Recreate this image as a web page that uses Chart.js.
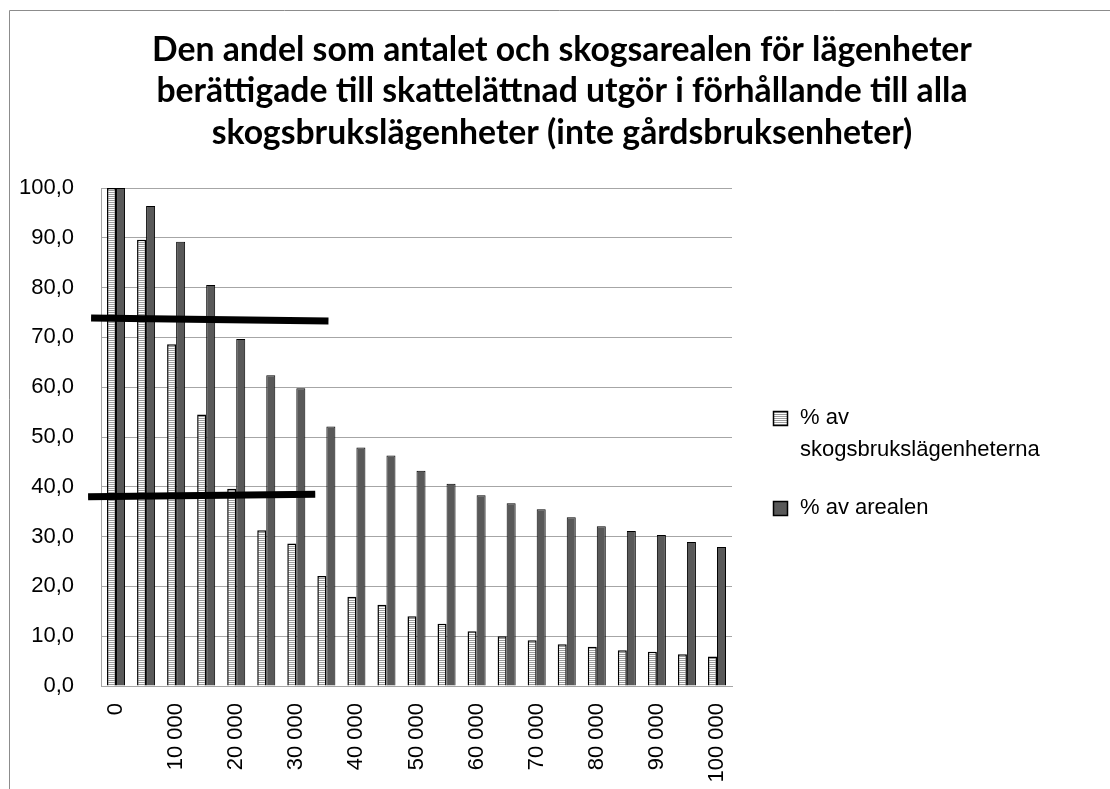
<!DOCTYPE html>
<html>
<head>
<meta charset="utf-8">
<script src="https://cdn.jsdelivr.net/npm/chart.js@4.4.1/dist/chart.umd.min.js"></script>
<style>
  html, body { margin: 0; padding: 0; background: #ffffff; }
  #wrap { position: relative; width: 1110px; height: 789px; }
</style>
</head>
<body>
<div id="wrap"><canvas id="c"></canvas></div>
<script>
// ---- data ----
const titleLines = [
  "Den andel som antalet och skogsarealen för lägenheter",
  "berättigade till skattelättnad utgör i förhållande till alla",
  "skogsbrukslägenheter (inte gårdsbruksenheter)"
];
const categories = [0, 5000, 10000, 15000, 20000, 25000, 30000, 35000, 40000, 45000, 50000,
                    55000, 60000, 65000, 70000, 75000, 80000, 85000, 90000, 95000, 100000];
const tickLabels = ["0", "", "10 000", "", "20 000", "", "30 000", "", "40 000", "", "50 000",
                    "", "60 000", "", "70 000", "", "80 000", "", "90 000", "", "100 000"];
const seriesNames = ["% av skogsbrukslägenheterna", "% av arealen"];
const shareHoldings = [100.0, 89.6, 68.6, 54.5, 39.6, 31.3, 28.6, 22.1, 17.9, 16.3, 14.0,
                       12.5, 11.0, 10.0, 9.2, 8.4, 7.9, 7.2, 6.9, 6.4, 5.9];
const shareArea = [100.0, 96.4, 89.2, 80.5, 69.7, 62.4, 59.8, 52.1, 47.9, 46.3, 43.2,
                   40.6, 38.3, 36.7, 35.5, 33.9, 32.1, 31.1, 30.3, 28.9, 27.9];
// hand-drawn marker lines, in data space (category index, value)
const markerLines = [
  { x1: -0.83, y1: 73.9, x2: 7.07, y2: 73.3 },
  { x1: -0.93, y1: 38.0, x2: 6.63, y2: 38.5 }
];

// ---- styles ----
const FONT = "'Liberation Sans', Arial, sans-serif";
const TITLE_FONT = "Lato, 'Open Sans', sans-serif";
function stripePattern() {
  const p = document.createElement('canvas');
  p.width = 4; p.height = 2;
  const g = p.getContext('2d');
  g.fillStyle = '#ffffff'; g.fillRect(0, 0, 4, 2);
  g.fillStyle = '#9a9a9a'; g.fillRect(0, 0, 4, 1);
  return g.createPattern(p, 'repeat');
}
const ctx = document.getElementById('c').getContext('2d');
const stripes = stripePattern();

const framePlugin = {
  id: 'frame',
  beforeDraw(chart) {
    const c = chart.ctx;
    c.save();
    c.strokeStyle = '#8c8c8c';
    c.lineWidth = 1;
    c.beginPath();
    c.moveTo(9.5, chart.height);
    c.lineTo(9.5, 10.5);
    c.lineTo(chart.width, 10.5);
    c.stroke();
    c.restore();
  }
};

const titlePlugin = {
  id: 'bigTitle',
  afterDraw(chart) {
    const c = chart.ctx;
    c.save();
    // size the title so its first line spans ~820px, like the original
    c.font = 'bold 30px ' + TITLE_FONT;
    const w = c.measureText(titleLines[0]).width;
    const size = 30 * 820 / w;
    c.font = 'bold ' + size.toFixed(2) + 'px ' + TITLE_FONT;
    c.fillStyle = '#000000';
    c.textAlign = 'center';
    c.textBaseline = 'middle';
    titleLines.forEach((ln, k) => c.fillText(ln, 562, 50 + k * 41.5));
    c.restore();
  }
};

const markerPlugin = {
  id: 'markers',
  afterDatasetsDraw(chart) {
    const c = chart.ctx, xs = chart.scales.x, ys = chart.scales.y;
    c.save();
    c.strokeStyle = '#000000';
    c.lineWidth = 7;
    c.lineCap = 'butt';
    markerLines.forEach(m => {
      c.beginPath();
      c.moveTo(xs.getPixelForValue(m.x1), ys.getPixelForValue(m.y1));
      c.lineTo(xs.getPixelForValue(m.x2), ys.getPixelForValue(m.y2));
      c.stroke();
    });
    c.restore();
  }
};

const legendPlugin = {
  id: 'sideLegend',
  afterDraw(chart) {
    const c = chart.ctx, area = chart.chartArea;
    const x0 = area.right + 41;
    let y = area.top + 230;
    const lineH = 32, maxW = 262;
    c.save();
    c.font = '22px ' + FONT;
    c.textBaseline = 'middle';
    chart.data.datasets.forEach((ds, i) => {
      const words = ds.label.split(' ');
      const lines = [];
      let cur = '';
      words.forEach(w => {
        const t = cur ? cur + ' ' + w : w;
        if (c.measureText(t).width > maxW && cur) { lines.push(cur); cur = w; }
        else cur = t;
      });
      if (cur) lines.push(cur);
      c.fillStyle = ds.backgroundColor;
      c.fillRect(x0, y - 7, 15, 15);
      c.strokeStyle = '#000';
      c.lineWidth = 1.5;
      c.strokeRect(x0 + 0.5, y - 6.5, 14, 14);
      c.fillStyle = '#000';
      lines.forEach((ln, k) => c.fillText(ln, x0 + 27, y + k * lineH));
      y += (lines.length - 1) * lineH + 58;
    });
    c.restore();
  }
};

new Chart(ctx, {
  type: 'bar',
  data: {
    labels: categories,
    datasets: [
      { label: seriesNames[0], data: shareHoldings, backgroundColor: stripes,
        borderColor: '#000000', borderWidth: 1.5 },
      { label: seriesNames[1], data: shareArea, backgroundColor: '#595959',
        borderColor: '#000000', borderWidth: 1 }
    ]
  },
  options: {
    responsive: true,
    maintainAspectRatio: false,
    animation: false,
    layout: { padding: { left: 0, right: 378, top: 188, bottom: 0 } },
    datasets: { bar: { categoryPercentage: 0.6, barPercentage: 1.0 } },
    plugins: {
      legend: { display: false },
      tooltip: { enabled: false },
      title: { display: false }
    },
    scales: {
      x: {
        grid: { display: false, drawTicks: false },
        border: { display: true, color: '#a6a6a6', width: 1 },
        ticks: {
          autoSkip: false,
          maxRotation: 90,
          minRotation: 90,
          padding: 17,
          color: '#000000',
          font: { family: FONT, size: 22 },
          callback: (v, i) => tickLabels[i]
        },
        afterFit: s => { s.height = 103; }
      },
      y: {
        min: 0,
        max: 100,
        grid: { color: '#a6a6a6', lineWidth: 1, drawTicks: false },
        border: { display: true, color: '#a6a6a6', width: 1 },
        ticks: {
          stepSize: 10,
          padding: 27,
          color: '#000000',
          font: { family: FONT, size: 22 },
          callback: v => v.toFixed(1).replace('.', ',')
        },
        afterFit: s => { s.width = 101; }
      }
    }
  },
  plugins: [framePlugin, titlePlugin, markerPlugin, legendPlugin]
});
</script>
</body>
</html>
